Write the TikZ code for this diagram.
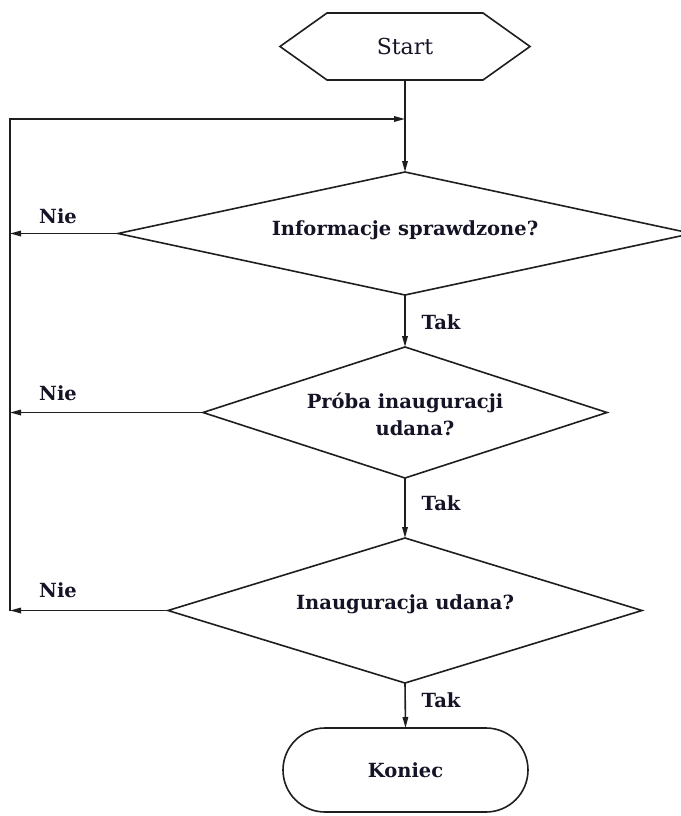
\documentclass[tikz,border=0pt]{standalone}
\usepackage{fontspec}
\setmainfont{DejaVu Serif}
\usetikzlibrary{arrows.meta,shapes.geometric,shapes.misc}
\definecolor{textc}{RGB}{20,20,38}
\definecolor{linec}{RGB}{30,30,30}
\begin{document}
\begin{tikzpicture}[x=1pt,y=-1pt,
  line width=1.6pt,
  every node/.style={inner sep=0pt,outer sep=0pt},
  dec/.style={draw=linec, diamond},
  lbl/.style={font=\bfseries\fontsize{19.5}{27}\selectfont, text=textc},
  arr/.style={draw=linec, -{Triangle[length=11pt,width=5.5pt]}},
]
\useasboundingbox (0,0) rectangle (680,816);

% Start
\node[font=\fontsize{22}{26}\selectfont, text=textc, minimum width=250pt, minimum height=67pt] (start) at (405,46.5) {Start};
\draw[linec] (start.west) -- ++(47,-33.5) -- ++(156,0) -- (start.east) -- ++(-47,33.5) -- ++(-156,0) -- cycle;

% Decisions
\node[dec, minimum width=574pt, minimum height=123pt] (d1) at (405,233.5) {};
\node[lbl] (t1) at (405,230) {Informacje sprawdzone?};

\node[dec, minimum width=404pt, minimum height=131pt] (d2) at (405,412.5) {};
\node[lbl, align=center] (t2) at (405,414) {Próba inauguracji\\\hspace*{20pt}udana?};

\node[dec, minimum width=474pt, minimum height=145pt] (d3) at (405,610.5) {};
\node[lbl] (t3) at (405,604) {Inauguracja udana?};

% End
\node[draw=linec, rounded rectangle, minimum width=245pt, minimum height=84pt, lbl] (end) at (405.5,770) {Koniec};

% Coordinates
\coordinate (j) at (405,119);
\coordinate (c1) at (10,233.5);
\coordinate (c2) at (10,412.5);
\coordinate (c3) at (10,610.5);

% Connectors
\draw[arr] (start.south) -- (d1.north);
\draw[arr] (c3) |- (j);
\draw[arr] (d1.west) -- (c1);
\draw[arr] (d2.west) -- (c2);
\draw[arr] (d3.west) -- (c3);
\draw[arr] (d1.south) -- (d2.north);
\draw[arr] (d2.south) -- (d3.north);
\draw[arr] (d3.south) -- (end.north);

% Labels
\node[lbl] (n1) at (58,216.5) {Nie};
\node[lbl] (n2) at (58,393) {Nie};
\node[lbl] (n3) at (58,590) {Nie};
\node[lbl] (k1) at (441,322) {Tak};
\node[lbl] (k2) at (441,503) {Tak};
\node[lbl] (k3) at (441,700) {Tak};
\end{tikzpicture}
\end{document}
